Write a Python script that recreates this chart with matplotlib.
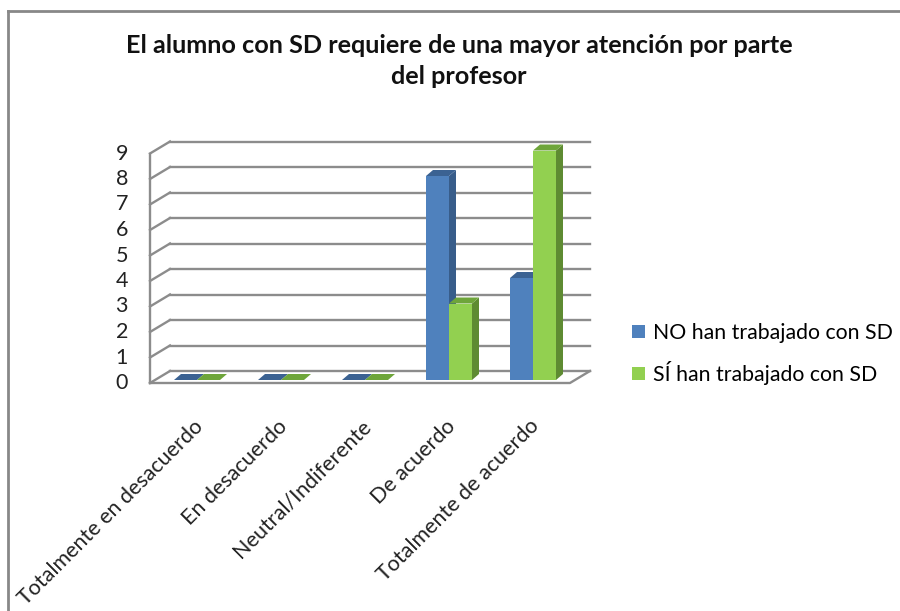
import numpy as np
import matplotlib
matplotlib.use('Agg')
import matplotlib.pyplot as plt
from matplotlib.patches import Polygon, Patch
from matplotlib.lines import Line2D

plt.rcParams['font.family'] = ['Lato', 'DejaVu Sans']

categories = ['Totalmente en desacuerdo', 'En desacuerdo', 'Neutral/Indiferente',
              'De acuerdo', 'Totalmente de acuerdo']
no_trabajado = [0, 0, 0, 8, 4]
si_trabajado = [0, 0, 0, 3, 9]
series_names = ['NO han trabajado con SD', 'SÍ han trabajado con SD']
y_ticks = list(range(0, 10))
title = 'El alumno con SD requiere de una mayor atención por parte\ndel profesor'

# front / side / top colours of each series
blue = ('#4F81BD', '#385D8A', '#3B6292')
green = ('#92D050', '#5E8B32', '#6EA53A')
grid_col = '#8C8C8C'

W, H = 900, 611
fig = plt.figure(figsize=(W / 100, H / 100), dpi=100)
ax = fig.add_axes([0, 0, 1, 1])

# pixel scale of the fake 3d plot: one category = 84 px, one unit = 25.5 px
PX_X, PX_Y = 84.0, 25.5
X0, Y0 = 197, 383          # first category / front floor line in pixels
ax.set_xlim(-X0 / PX_X, (W - X0) / PX_X)
ax.set_ylim(-(H - Y0) / PX_Y, Y0 / PX_Y)
ax.axis('off')

wall_dx, wall_dy = 20 / PX_X, 12 / PX_Y
bar_dx, bar_dy = 7 / PX_X, 6 / PX_Y
bar_base = 3 / PX_Y
bar_w = 23 / PX_X
x_axis = -47 / PX_X
x_floor_end = 4.44

# walls and floor
for k in y_ticks:
    ax.plot([x_axis, x_axis + wall_dx], [k, k + wall_dy], color=grid_col, lw=1.7, zorder=1)
    ax.plot([x_axis + wall_dx, x_floor_end + wall_dx], [k + wall_dy] * 2,
            color=grid_col, lw=1.7, zorder=1)
    ax.text(x_axis - 22 / PX_X, k, str(k), ha='right', va='center', fontsize=15.5, color='#222222')
ax.plot([x_axis, x_axis], [0, y_ticks[-1]], color=grid_col, lw=1.7, zorder=1)
ax.plot([x_axis, x_floor_end, x_floor_end + wall_dx], [0, 0, wall_dy],
        color=grid_col, lw=1.7, zorder=1)

x = np.arange(len(categories))
z = 2
for offs, vals, cols in [(-bar_w, no_trabajado, blue), (0.0, si_trabajado, green)]:
    for xi, v in zip(x + offs, vals):
        top = bar_base + v
        side = [(xi + bar_w, bar_base), (xi + bar_w + bar_dx, bar_base + bar_dy),
                (xi + bar_w + bar_dx, top + bar_dy), (xi + bar_w, top)]
        lid = [(xi, top), (xi + bar_w, top), (xi + bar_w + bar_dx, top + bar_dy),
               (xi + bar_dx, top + bar_dy)]
        ax.add_patch(Polygon(side, closed=True, facecolor=cols[1], edgecolor='none', zorder=z))
        ax.add_patch(Polygon(lid, closed=True, facecolor=cols[2], edgecolor='none', zorder=z))
    ax.bar(x + offs, vals, width=bar_w, bottom=bar_base, align='edge',
           color=cols[0], edgecolor='none', zorder=z + 1)
    z += 2

# category labels
for xi, cat in zip(x, categories):
    ax.text(xi + 3 / PX_X, -(423 - Y0) / PX_Y, cat, rotation=45, rotation_mode='anchor',
            ha='right', va='center', fontsize=15.5, color='#222222')

fig.text(459 / W, 1 - 61 / H, title, ha='center', va='center', fontsize=18.2,
         fontweight='bold', linespacing=1.4, color='#111111')

handles = [Patch(facecolor=blue[0]), Patch(facecolor=green[0])]
fig.legend(handles, series_names, loc='upper left', bbox_to_anchor=(632 / W, 1 - 323 / H),
           frameon=False, fontsize=15.3, handlelength=0.6, handleheight=0.6,
           handletextpad=0.4, labelspacing=0.85, borderpad=0, borderaxespad=0)

# outer frame of the chart area
fig.add_artist(Line2D([8 / W, 8 / W], [0, 1 - 11 / H], transform=fig.transFigure,
                      color='#888888', lw=2))
fig.add_artist(Line2D([8 / W, 1], [1 - 11 / H, 1 - 11 / H], transform=fig.transFigure,
                      color='#888888', lw=2))

fig.savefig('out.png', dpi=100)
